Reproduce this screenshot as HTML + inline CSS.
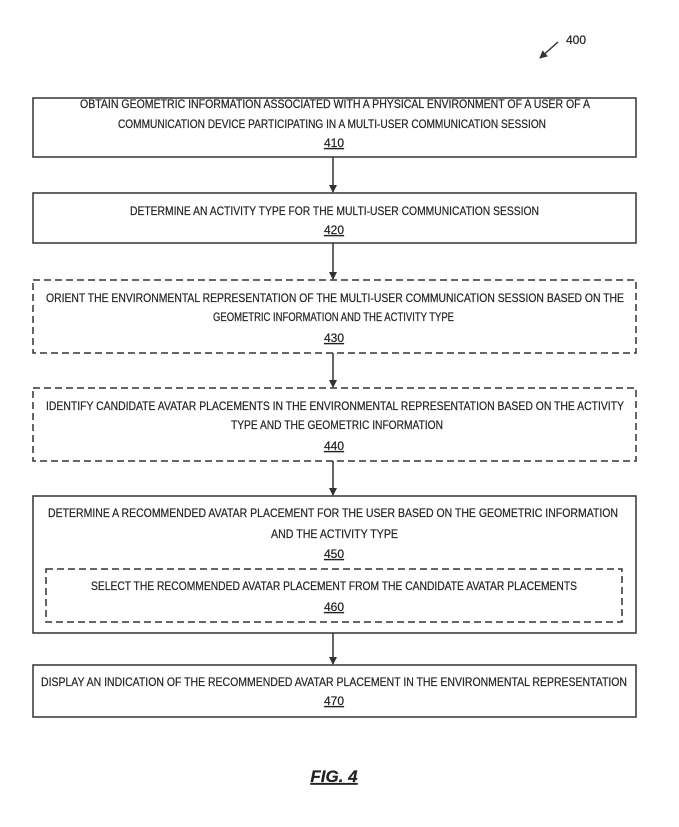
<!DOCTYPE html>
<html><head><meta charset="utf-8"><style>html,body{margin:0;padding:0;background:#fff}</style></head>
<body>
<svg width="679" height="822" viewBox="0 0 679 822" xmlns="http://www.w3.org/2000/svg" font-family="Liberation Sans, sans-serif" font-size="12" fill="#222">
<defs><marker id="a" markerWidth="8" markerHeight="8" refX="7" refY="4" orient="auto" markerUnits="userSpaceOnUse"><path d="M0,0 L8,4 L0,8 z" fill="#333"/></marker></defs>
<g stroke="#333" stroke-width="1.5" fill="none">
<rect x="33" y="98" width="603" height="59"/>
<rect x="33" y="193" width="603" height="50"/>
<rect x="33" y="280" width="603" height="73" stroke-dasharray="7,4"/>
<rect x="33" y="388" width="603" height="73" stroke-dasharray="7,4"/>
<rect x="33" y="496" width="603" height="137"/>
<rect x="46" y="569" width="576" height="53" stroke-dasharray="7,4"/>
<rect x="33" y="665" width="603" height="52"/>
<line x1="333" y1="157" x2="333" y2="192" marker-end="url(#a)"/>
<line x1="333" y1="243" x2="333" y2="279" marker-end="url(#a)"/>
<line x1="333" y1="353" x2="333" y2="387" marker-end="url(#a)"/>
<line x1="333" y1="461" x2="333" y2="495" marker-end="url(#a)"/>
<line x1="333" y1="633" x2="333" y2="664" marker-end="url(#a)"/>
<line x1="558" y1="42" x2="540" y2="58" marker-end="url(#a)"/>
</g>
<g stroke="#222" stroke-width="0.2">
<text x="566" y="44" font-size="12">400</text>
<text x="80" y="108" textLength="510" lengthAdjust="spacingAndGlyphs">OBTAIN GEOMETRIC INFORMATION ASSOCIATED WITH A PHYSICAL ENVIRONMENT OF A USER OF A</text>
<text x="118" y="128" textLength="428" lengthAdjust="spacingAndGlyphs">COMMUNICATION DEVICE PARTICIPATING IN A MULTI-USER COMMUNICATION SESSION</text>
<text x="334" y="147" text-anchor="middle" text-decoration="underline">410</text>
<text x="130" y="215" textLength="409" lengthAdjust="spacingAndGlyphs">DETERMINE AN ACTIVITY TYPE FOR THE MULTI-USER COMMUNICATION SESSION</text>
<text x="334" y="234" text-anchor="middle" text-decoration="underline">420</text>
<text x="46" y="302" textLength="578" lengthAdjust="spacingAndGlyphs">ORIENT THE ENVIRONMENTAL REPRESENTATION OF THE MULTI-USER COMMUNICATION SESSION BASED ON THE</text>
<text x="213" y="321" textLength="241" lengthAdjust="spacingAndGlyphs">GEOMETRIC INFORMATION AND THE ACTIVITY TYPE</text>
<text x="334" y="342" text-anchor="middle" text-decoration="underline">430</text>
<text x="46" y="410" textLength="578" lengthAdjust="spacingAndGlyphs">IDENTIFY CANDIDATE AVATAR PLACEMENTS IN THE ENVIRONMENTAL REPRESENTATION BASED ON THE ACTIVITY</text>
<text x="231" y="429" textLength="212" lengthAdjust="spacingAndGlyphs">TYPE AND THE GEOMETRIC INFORMATION</text>
<text x="334" y="450" text-anchor="middle" text-decoration="underline">440</text>
<text x="48" y="517" textLength="570" lengthAdjust="spacingAndGlyphs">DETERMINE A RECOMMENDED AVATAR PLACEMENT FOR THE USER BASED ON THE GEOMETRIC INFORMATION</text>
<text x="271" y="538" textLength="127" lengthAdjust="spacingAndGlyphs">AND THE ACTIVITY TYPE</text>
<text x="334" y="558" text-anchor="middle" text-decoration="underline">450</text>
<text x="91" y="590" textLength="486" lengthAdjust="spacingAndGlyphs">SELECT THE RECOMMENDED AVATAR PLACEMENT FROM THE CANDIDATE AVATAR PLACEMENTS</text>
<text x="334" y="611" text-anchor="middle" text-decoration="underline">460</text>
<text x="41" y="686" textLength="586" lengthAdjust="spacingAndGlyphs">DISPLAY AN INDICATION OF THE RECOMMENDED AVATAR PLACEMENT IN THE ENVIRONMENTAL REPRESENTATION</text>
<text x="334" y="705" text-anchor="middle" text-decoration="underline">470</text>
<text x="334" y="782" text-anchor="middle" font-size="17" font-weight="bold" font-style="italic" text-decoration="underline">FIG. 4</text>
</g>
</svg>
</body></html>
